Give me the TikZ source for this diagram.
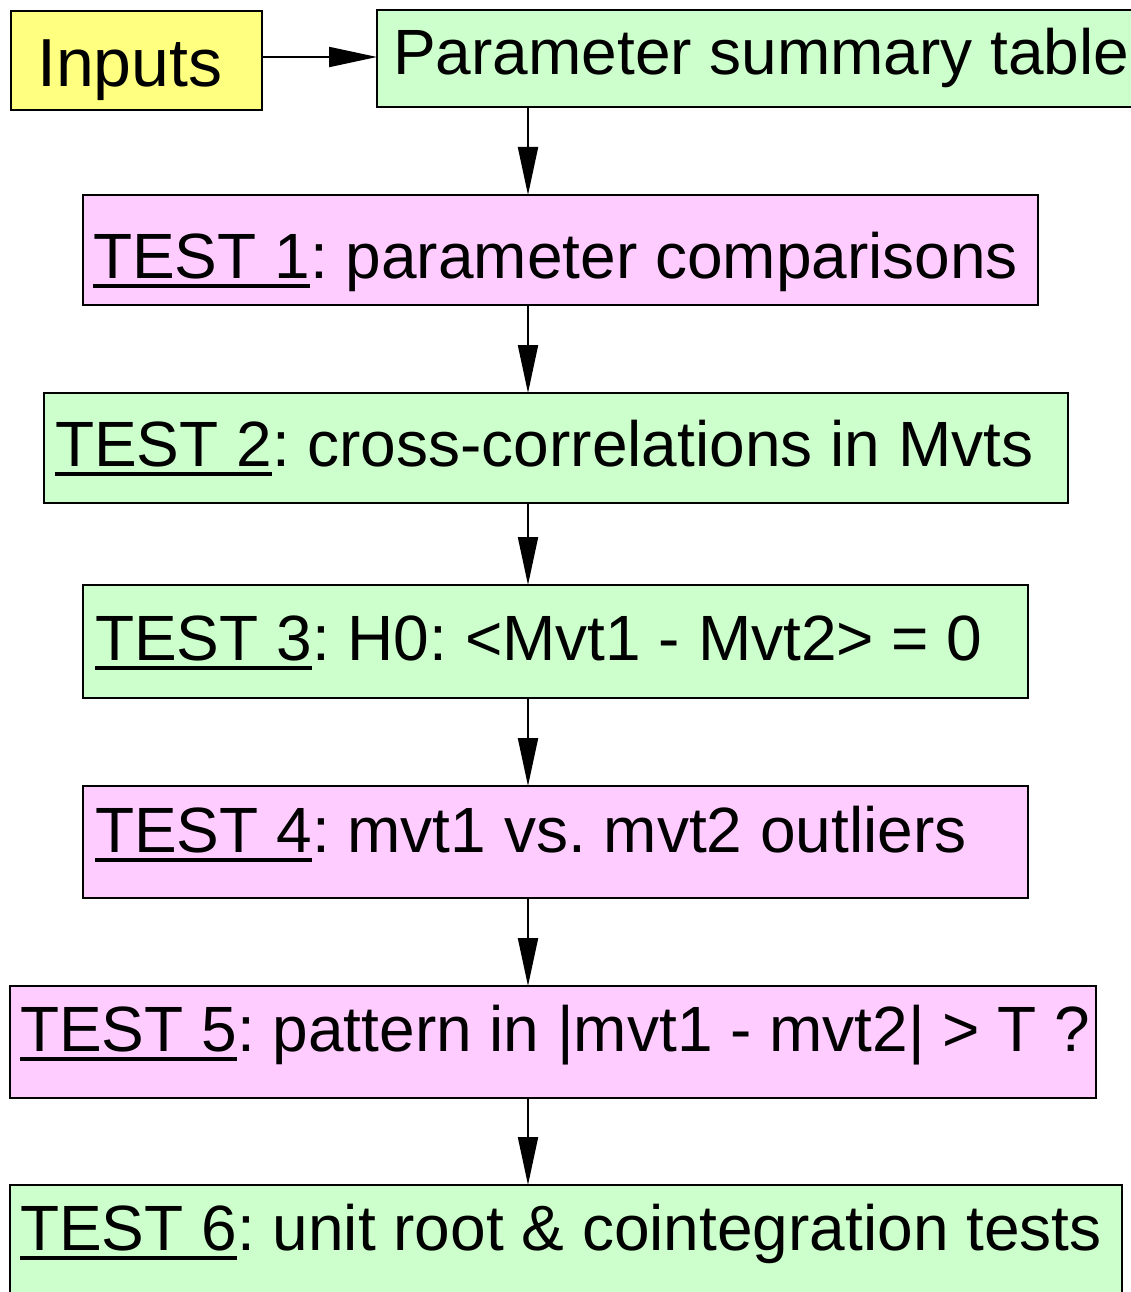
\documentclass[tikz,border=0pt]{standalone}
\usepackage{fontspec}
\setmainfont{Liberation Sans}
\usetikzlibrary{arrows.meta}
\definecolor{boxyellow}{HTML}{FFFF80}
\definecolor{boxgreen}{HTML}{CCFFCC}
\definecolor{boxpink}{HTML}{FFCCFF}
\frenchspacing
% thick underline under the test number
\newcommand\testul[1]{\setbox0\hbox{#1}\rlap{\rule[-10pt]{\wd0}{3.8pt}}\box0}
\begin{document}
\begin{tikzpicture}[x=1pt,y=-1pt,
  stagebox/.style={draw=black,line width=2pt,anchor=north west,inner sep=0pt,outer sep=0pt},
  label/.style={anchor=base west,inner sep=0pt,font=\fontsize{64}{72}\selectfont},
  flow/.style={line width=2pt,-{Triangle[length=48pt,width=20pt]}}]
\useasboundingbox (0,0) rectangle (1130,1292);
\fill[white] (0,0) rectangle (1130,1292);

% boxes
\node[stagebox,fill=boxyellow,minimum width=251pt,minimum height=99pt] (inputs) at (11,11) {};
\node[stagebox,fill=boxgreen,minimum width=770pt,minimum height=97pt] (param) at (377,10) {};
\node[stagebox,fill=boxpink,minimum width=955pt,minimum height=110pt] (t1) at (83,195) {};
\node[stagebox,fill=boxgreen,minimum width=1024pt,minimum height=110pt] (t2) at (44,393) {};
\node[stagebox,fill=boxgreen,minimum width=945pt,minimum height=113pt] (t3) at (83,585) {};
\node[stagebox,fill=boxpink,minimum width=945pt,minimum height=112pt] (t4) at (83,786) {};
\node[stagebox,fill=boxpink,minimum width=1086pt,minimum height=112pt] (t5) at (10,986) {};
\node[stagebox,fill=boxgreen,minimum width=1112pt,minimum height=130pt] (t6) at (10,1185) {};

% texts
\node[label,font=\fontsize{68}{78}\selectfont] (inputsT) at (37,87) {Inputs};
\node[label] (paramT) at (393,75) {Parameter summary table};
\node[label] (t1T) at (93,278) {\testul{TEST 1}: parameter comparisons};
\node[label] (t2T) at (55,466) {\testul{TEST 2}: cross-correlations in Mvts};
\node[label] (t3T) at (95,660) {\testul{TEST 3}: H0: <Mvt1 - Mvt2> = 0};
\node[label] (t4T) at (95,852) {\testul{TEST 4}: mvt1 vs. mvt2 outliers};
\node[label] (t5T) at (20,1051) {\testul{TEST 5}: pattern in |mvt1 - mvt2| > T ?};
\node[label] (t6T) at (20,1250) {\testul{TEST 6}: unit root \& cointegration tests};

% connectors
\coordinate (axis) at (528,0);
\coordinate (row) at (0,57);
\draw[flow] (inputs.east |- row) -- (param.west |- row);
\draw[flow] (param.south -| axis) -- (t1.north -| axis);
\draw[flow] (t1.south -| axis) -- (t2.north -| axis);
\draw[flow] (t2.south -| axis) -- (t3.north -| axis);
\draw[flow] (t3.south -| axis) -- (t4.north -| axis);
\draw[flow] (t4.south -| axis) -- (t5.north -| axis);
\draw[flow] (t5.south -| axis) -- (t6.north -| axis);
\end{tikzpicture}
\end{document}
